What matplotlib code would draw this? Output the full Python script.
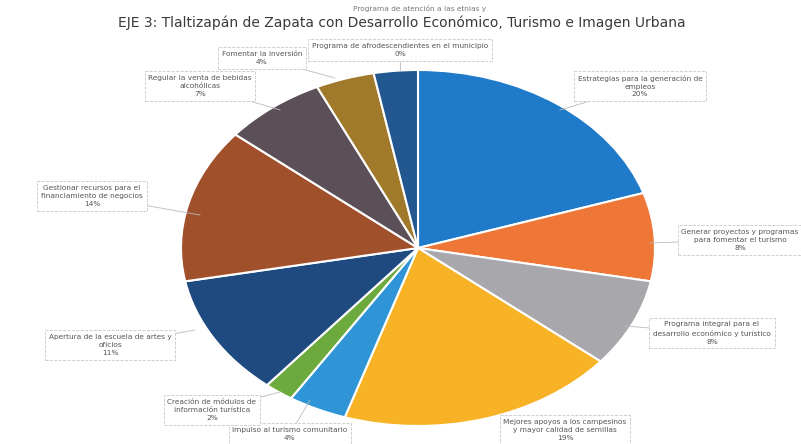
import matplotlib
matplotlib.use("Agg")
import matplotlib.pyplot as plt

W, H = 801, 444

# slice values (percent), clockwise from 12 o'clock
values = [20, 8, 8, 19, 4, 2, 11, 14, 7, 4, 3]
colors = ["#1F7AC9", "#EE7636", "#A8A8AC", "#F7B325", "#2F95D6", "#6DAA3D",
          "#1F4A80", "#A0502A", "#5C5058", "#A07A2A", "#22578F"]
labels = [
    "Estrategias para la generación de\nempleos\n20%",
    "Generar proyectos y programas\npara fomentar el turismo\n8%",
    "Programa integral para el\ndesarrollo económico y turístico\n8%",
    "Mejores apoyos a los campesinos\ny mayor calidad de semillas\n19%",
    "Impulso al turismo comunitario\n4%",
    "Creación de módulos de\ninformación turística\n2%",
    "Apertura de la escuela de artes y\noficios\n11%",
    "Gestionar recursos para el\nfinanciamiento de negocios\n14%",
    "Regular la venta de bebidas\nalcohólicas\n7%",
    "Fomentar la inversión\n4%",
    "Programa de afrodescendientes en el municipio\n0%",
]
extra_label = "Programa de atención a las etnias y"

# label centres in pixels (x, y from top)
label_pos = [(640, 86), (740, 240), (712, 333), (565, 430), (290, 434),
             (212, 410), (110, 345), (92, 196), (200, 86), (262, 58), (400, 50)]
# point on the pie each leader line goes to (pixels)
anchor = [(560, 110), (650, 243), (625, 326), (505, 418), (310, 400),
          (280, 392), (195, 330), (200, 215), (280, 110), (335, 78), (400, 70)]
label_z = [5, 5, 5, 5, 5, 6, 5, 5, 5, 5, 6]

fig = plt.figure(figsize=(W / 100, H / 100), dpi=100)
fig.patch.set_facecolor("white")

left, right, top, bottom = 181, 655, 70, 426
ax = fig.add_axes([left / W, 1 - bottom / H, (right - left) / W, (bottom - top) / H])
ax.pie(values, colors=colors, startangle=90, counterclock=False,
       wedgeprops=dict(edgecolor="white", linewidth=1.5))
ax.set_aspect("auto")
ax.set_xlim(-1, 1)
ax.set_ylim(-1, 1)
ax.axis("off")

fig.text(402 / W, 1 - 23 / H,
         "EJE 3: Tlaltizapán de Zapata con Desarrollo Económico, Turismo e Imagen Urbana",
         ha="center", va="center", fontsize=10, color="#3A3A3A")

box = dict(boxstyle="square,pad=0.5", facecolor="white", edgecolor="#C8C8C8",
           linewidth=0.6, linestyle="--")


def px(x, y):
    return x / W, 1 - y / H


for (lx, ly), (axx, ayy) in zip(label_pos, anchor):
    fig.add_artist(plt.Line2D([px(lx, ly)[0], px(axx, ayy)[0]],
                              [px(lx, ly)[1], px(axx, ayy)[1]],
                              color="#BBBBBB", linewidth=0.6, zorder=1))

for i in range(len(labels)):
    x, y = px(*label_pos[i])
    fig.text(x, y, labels[i], ha="center", va="center", fontsize=5.3,
             color="#555555", linespacing=1.4, bbox=box, zorder=label_z[i])

x, y = px(420, 8)
fig.text(x, y, extra_label, ha="center", va="center", fontsize=5.3,
         color="#777777", zorder=4)

fig.savefig("out.png", dpi=100)
